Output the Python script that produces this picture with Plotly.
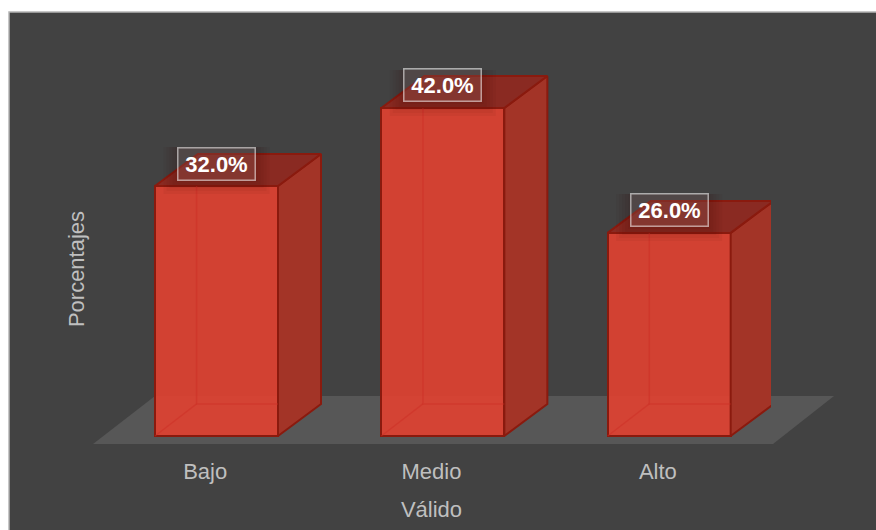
import plotly.graph_objects as go

categories = ["Bajo", "Medio", "Alto"]
percentages = [32.0, 42.0, 26.0]
positions = [0, 1, 2]
x_title = "Válido"
y_title = "Porcentajes"

BAR_W = 0.5436
SHIFT = 0.05   # bars sit slightly right of their tick, as in a 3D projection
DX = 0.19
DY = 4.1
FRONT_LINE = "#8a1a0e"
GHOST = "rgba(205,45,35,0.45)"
FONT = "Liberation Sans, Arial, sans-serif"

# plot frame in page pixels (used only for the page-level backdrop and floor)
L, R, T, B = 92, 771, 70, 468


def px(x):
    return (x - L) / (R - L)


def py(y):
    return (B - y) / (B - T)


fig = go.Figure()
centers = [p + SHIFT for p in positions]

# right side and top faces
for x, v in zip(centers, percentages):
    l = x - BAR_W / 2
    r = x + BAR_W / 2
    fig.add_trace(go.Scatter(
        x=[r, r + DX, r + DX, r, r], y=[0, DY, v + DY, v, 0],
        mode="lines", fill="toself", fillcolor="#a33427",
        line=dict(color=FRONT_LINE, width=2),
        hoverinfo="skip", showlegend=False, cliponaxis=False))
    fig.add_trace(go.Scatter(
        x=[l, l + DX, r + DX, r, l], y=[v, v + DY, v + DY, v, v],
        mode="lines", fill="toself", fillcolor="#8a2a22",
        line=dict(color=FRONT_LINE, width=2),
        hoverinfo="skip", showlegend=False, cliponaxis=False))

# back edges seen through the translucent front
for x, v in zip(centers, percentages):
    l = x - BAR_W / 2 + DX - 0.006
    r = x + BAR_W / 2
    fig.add_trace(go.Scatter(
        x=[l, l, r], y=[v, DY, DY], mode="lines",
        line=dict(color=GHOST, width=1.5),
        hoverinfo="skip", showlegend=False, cliponaxis=False))
    fig.add_trace(go.Scatter(
        x=[x - BAR_W / 2, l], y=[0, DY], mode="lines",
        line=dict(color=GHOST, width=1.5),
        hoverinfo="skip", showlegend=False, cliponaxis=False))

# front faces
fig.add_trace(go.Bar(
    x=centers, y=percentages, width=BAR_W,
    marker=dict(color="rgba(222,66,50,0.93)", line=dict(color=FRONT_LINE, width=2)),
    cliponaxis=False, showlegend=False,
    customdata=categories,
    hovertemplate="%{customdata}: %{y:.1f}%<extra></extra>"))

annotations = [
    dict(x=x, y=v, xref="x", yref="y", yshift=22.5, showarrow=False,
         text=f"<b>{v:.1f}%</b>", font=dict(family=FONT, size=22, color="white"),
         bgcolor="rgba(255,255,255,0.1)", bordercolor="rgba(255,255,255,0.55)",
         borderwidth=1.5, borderpad=3, width=70)
    for x, v in zip(centers, percentages)
]

shapes = [
    dict(type="rect", xref="paper", yref="paper", layer="below",
         x0=px(9), x1=px(890), y0=py(545), y1=py(12),
         fillcolor="#424242", line=dict(color="#b5b5b5", width=1.5)),
    dict(type="path", xref="paper", yref="paper", layer="below",
         path=f"M {px(93)} {py(444)} L {px(773)} {py(444)} L {px(834)} {py(396)} L {px(155)} {py(396)} Z",
         fillcolor="#575757", line=dict(width=0)),
]
# soft shadow of each value label, anchored to the bar top
for x, v in zip(centers, percentages):
    for grow in (14, 11, 8, 5, 2):
        shapes.append(dict(
            type="rect", layer="above", xref="x", yref="y",
            xsizemode="pixel", ysizemode="pixel", xanchor=x, yanchor=v,
            x0=-39 - grow, x1=39 + grow, y0=6 - grow, y1=39,
            fillcolor="rgba(40,0,0,0.045)", line=dict(width=0)))

fig.update_layout(
    width=876, height=530, autosize=False,
    margin=dict(l=L, r=876 - R, t=T, b=530 - B, pad=0),
    paper_bgcolor="white", plot_bgcolor="rgba(0,0,0,0)",
    font=dict(family=FONT, size=22, color="#bfbfbf"),
    showlegend=False, annotations=annotations, bargap=0, shapes=shapes,
    xaxis=dict(range=[-0.5, 2.5], tickvals=positions, ticktext=categories,
               ticks="", ticklabelstandoff=-12,
               showgrid=False, zeroline=False, showline=False,
               title=dict(text=x_title, standoff=18, font=dict(size=22))),
    yaxis=dict(range=[-4.1, 46.86], showgrid=False, zeroline=False, showline=False,
               showticklabels=False, ticks="",
               title=dict(text=y_title, standoff=0, font=dict(size=22))),
)

fig.write_html(
    "out.html",
    config={"displayModeBar": False},
    post_script="document.body.style.margin='0';document.documentElement.style.overflow='hidden';",
)
